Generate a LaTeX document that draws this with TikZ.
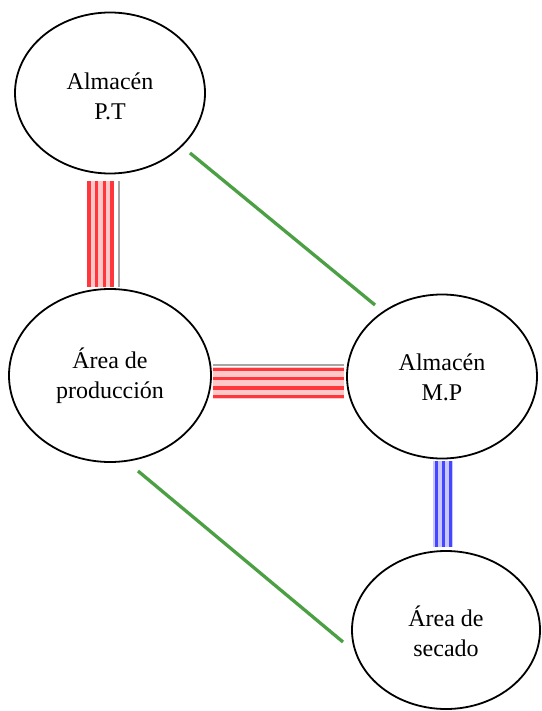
\documentclass[tikz,border=0pt]{standalone}
\usepackage{fontspec}
\setmainfont{Liberation Serif}
\usetikzlibrary{shapes.geometric}
\definecolor{lgreen}{RGB}{76,160,68}
\definecolor{sred}{RGB}{255,55,60}
\definecolor{spink}{RGB}{255,200,200}
\definecolor{sblue}{RGB}{70,70,255}
\definecolor{sblue2}{RGB}{200,200,255}
\begin{document}
\begin{tikzpicture}[x=1pt,y=-1pt,
  place/.style={ellipse,draw=black,line width=1.8pt,inner sep=0pt},
  lbl/.style={font=\fontsize{24}{30}\selectfont,align=center,inner sep=0pt},
  greenline/.style={draw=lgreen,line width=3.3pt},
  redstripe/.style={draw=sred,line width=3.4pt},
  bluestripe/.style={draw=sblue,line width=3pt},
  graystripe/.style={draw=black!35,line width=1.6pt}]
\useasboundingbox (0,0) rectangle (541,711);
% places
\node[place,minimum width=190pt,minimum height=161pt] (pt) at (110,93) {};
\node[place,minimum width=202pt,minimum height=173pt] (prod) at (110,375.5) {};
\node[place,minimum width=190pt,minimum height=164pt] (mp) at (442,376.5) {};
\node[place,minimum width=188pt,minimum height=158pt] (sec) at (446,630) {};
\node[lbl] (tpt) at (110,96) {Almacén\\P.T};
\node[lbl] (tprod) at (110,376) {Área de\\producción};
\node[lbl] (tmp) at (442,377) {Almacén\\M.P};
\node[lbl] (tsec) at (446,631) {Área de\\secado};
% red vertical band
\coordinate (rva) at (87,181);
\coordinate (rvb) at (87,287);
\fill[spink] (rva) rectangle ([xshift=27]rvb);
\foreach \d in {2,9.5,17.5,25}
  \draw[redstripe] ([xshift=\d]rva) -- ([xshift=\d]rvb);
\draw[graystripe] ([xshift=32]rva) -- ([xshift=32]rvb);
% red horizontal band
\coordinate (rha) at (213,365);
\coordinate (rhb) at (344,365);
\fill[spink] ([yshift=-2]rha) rectangle ([yshift=-34]rhb);
\foreach \d in {4.5,13.5,23,31.5}
  \draw[redstripe] ([yshift=-\d]rha) -- ([yshift=-\d]rhb);
\draw[graystripe] (rha) -- (rhb);
% blue band
\coordinate (bva) at (434,461);
\coordinate (bvb) at (434,547);
\fill[sblue2] ([xshift=-1]bva) rectangle ([xshift=19]bvb);
\foreach \d in {2,9.5,16}
  \draw[bluestripe] ([xshift=\d]bva) -- ([xshift=\d]bvb);
% green lines
\coordinate (g1a) at (190,153);
\coordinate (g1b) at (375,305);
\coordinate (g2a) at (138,471);
\coordinate (g2b) at (343,642);
\draw[greenline] (g1a) -- (g1b);
\draw[greenline] (g2a) -- (g2b);
\end{tikzpicture}
\end{document}
